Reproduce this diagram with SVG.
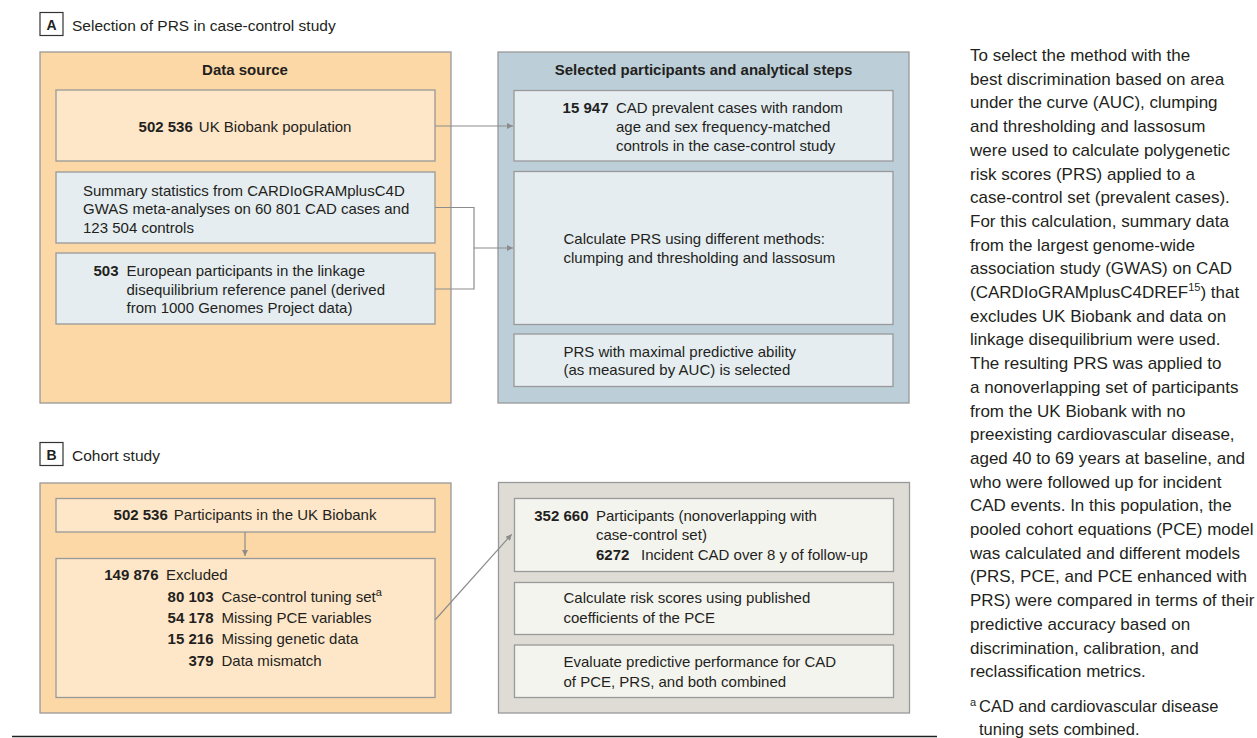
<svg xmlns="http://www.w3.org/2000/svg" width="1257" height="738" viewBox="0 0 1257 738">
<style>
text{font-family:"Liberation Sans",Arial,sans-serif;fill:#231f20;font-size:15px}
.b{font-weight:bold}
.e{text-anchor:end}
.m{text-anchor:middle}
.lbl{fill:#fff;stroke:#333;stroke-width:1.2}
.oA{fill:#fdd8a7;stroke:#999;stroke-width:1.3}
.oBl{fill:#bccfd9;stroke:#999;stroke-width:1.3}
.oG{fill:#dfdcd5;stroke:#999;stroke-width:1.3}
.pe{fill:#fee6c8;stroke:#999;stroke-width:1.3}
.bl{fill:#e5edf1;stroke:#999;stroke-width:1.3}
.lt{fill:#f4f4ef;stroke:#999;stroke-width:1.3}
.c{fill:none;stroke:#8c8c8c;stroke-width:1.2}
.side{font-size:17px}
.fn{font-size:16.5px}
.sup{font-size:11px}
</style>
<defs>
<marker id="arr" viewBox="0 0 10 10" refX="10" refY="5" markerWidth="8" markerHeight="6" orient="auto" markerUnits="userSpaceOnUse"><path d="M0,0 L10,5 L0,10 z" fill="#8c8c8c"/></marker>
</defs>

<g id="panelA-label">
<rect class="lbl" x="40" y="12.5" width="23" height="23"/>
<text class="b m" x="51.5" y="29.5" style="font-size:14px">A</text>
<text x="72" y="31" style="font-size:15.5px">Selection of PRS in case-control study</text>
</g>

<g id="data-source">
<rect class="oA" x="40" y="52" width="411" height="351"/>
<text class="b m" x="245" y="75">Data source</text>
</g>
<g id="a-biobank">
<rect class="pe" x="56" y="90" width="379" height="71"/>
<text class="m" x="245" y="132"><tspan class="b">502 536</tspan><tspan dx="6">UK Biobank population</tspan></text>
</g>
<g id="a-summary">
<rect class="bl" x="56" y="172" width="379" height="71"/>
<text x="83" y="195.5">Summary statistics from CARDIoGRAMplusC4D</text>
<text x="83" y="214">GWAS meta-analyses on 60 801 CAD cases and</text>
<text x="83" y="232.5">123 504 controls</text>
</g>
<g id="a-european">
<rect class="bl" x="56" y="253" width="379" height="71"/>
<text class="b e" x="118.5" y="276">503</text>
<text x="126.5" y="276">European participants in the linkage</text>
<text x="126.5" y="294.5">disequilibrium reference panel (derived</text>
<text x="126.5" y="313">from 1000 Genomes Project data)</text>
</g>

<g id="selected">
<rect class="oBl" x="498" y="52" width="411" height="351"/>
<text class="b m" x="703.5" y="74.5">Selected participants and analytical steps</text>
</g>
<g id="a-cases">
<rect class="bl" x="514" y="90.5" width="379" height="70.5"/>
<text class="b e" x="608.5" y="113">15 947</text>
<text x="616" y="113">CAD prevalent cases with random</text>
<text x="616" y="132">age and sex frequency-matched</text>
<text x="616" y="151">controls in the case-control study</text>
</g>
<g id="a-calc">
<rect class="bl" x="514" y="171.5" width="379" height="153"/>
<text x="563.5" y="244.3">Calculate PRS using different methods:</text>
<text x="563.5" y="263.3">clumping and thresholding and lassosum</text>
</g>
<g id="a-maximal">
<rect class="bl" x="514" y="334" width="379" height="52.5"/>
<text x="563.5" y="356.7">PRS with maximal predictive ability</text>
<text x="563.5" y="375.3">(as measured by AUC) is selected</text>
</g>

<g id="panelB-label">
<rect class="lbl" x="40" y="442.5" width="23" height="23"/>
<text class="b m" x="51.5" y="459.5" style="font-size:14px">B</text>
<text x="72" y="461" style="font-size:15.5px">Cohort study</text>
</g>

<g id="cohort-left">
<rect class="oA" x="40" y="483" width="411" height="230"/>
</g>
<g id="b-participants">
<rect class="pe" x="56" y="498.5" width="379" height="33.5"/>
<text class="m" x="245" y="520"><tspan class="b">502 536</tspan><tspan dx="6">Participants in the UK Biobank</tspan></text>
</g>
<g id="b-excluded">
<rect class="pe" x="56" y="558.5" width="379" height="139"/>
<text class="b e" x="158.5" y="580">149 876</text>
<text x="166" y="580">Excluded</text>
<text class="b e" x="213.5" y="602.3">80 103</text>
<text x="221.5" y="602.3">Case-control tuning set<tspan class="sup" dy="-6">a</tspan></text>
<text class="b e" x="213.5" y="623.3">54 178</text>
<text x="221.5" y="623.3">Missing PCE variables</text>
<text class="b e" x="213.5" y="644.3">15 216</text>
<text x="221.5" y="644.3">Missing genetic data</text>
<text class="b e" x="213.5" y="665.5">379</text>
<text x="221.5" y="665.5">Data mismatch</text>
</g>

<g id="cohort-right">
<rect class="oG" x="498.5" y="482.5" width="411" height="230.5"/>
</g>
<g id="b-nonoverlap">
<rect class="lt" x="514.5" y="498.5" width="379" height="73"/>
<text class="b e" x="588.5" y="521">352 660</text>
<text x="596" y="521">Participants (nonoverlapping with</text>
<text x="596" y="540">case-control set)</text>
<text class="b" x="596" y="560">6272</text>
<text x="641" y="560">Incident CAD over 8 y of follow-up</text>
</g>
<g id="b-risk">
<rect class="lt" x="514.5" y="582.5" width="379" height="52"/>
<text x="563.5" y="603.3">Calculate risk scores using published</text>
<text x="563.5" y="622.7">coefficients of the PCE</text>
</g>
<g id="b-evaluate">
<rect class="lt" x="514.5" y="645" width="379" height="52.5"/>
<text x="563.5" y="667.3">Evaluate predictive performance for CAD</text>
<text x="563.5" y="686.7">of PCE, PRS, and both combined</text>
</g>

<g id="connectors">
<path class="c" d="M435,126 H513" marker-end="url(#arr)"/>
<path class="c" d="M435,207.5 H474 V289 H435"/>
<path class="c" d="M474,248 H513" marker-end="url(#arr)"/>
<path class="c" d="M245,532 V556" marker-end="url(#arr)"/>
<path class="c" d="M435,620 L511.7,534.3" marker-end="url(#arr)"/>
</g>

<line x1="12" y1="736.5" x2="937" y2="736.5" stroke="#231f20" stroke-width="1.5"/>

<g id="side-text">
<text class="side" x="970" y="61">To select the method with the</text>
<text class="side" x="970" y="84.7">best discrimination based on area</text>
<text class="side" x="970" y="108.4">under the curve (AUC), clumping</text>
<text class="side" x="970" y="132.1">and thresholding and lassosum</text>
<text class="side" x="970" y="155.8">were used to calculate polygenetic</text>
<text class="side" x="970" y="179.5">risk scores (PRS) applied to a</text>
<text class="side" x="970" y="203.2">case-control set (prevalent cases).</text>
<text class="side" x="970" y="226.9">For this calculation, summary data</text>
<text class="side" x="970" y="250.6">from the largest genome-wide</text>
<text class="side" x="970" y="274.3">association study (GWAS) on CAD</text>
<text class="side" x="970" y="298">(CARDIoGRAMplusC4DREF<tspan class="sup" dy="-7">15</tspan><tspan dy="7">) that</tspan></text>
<text class="side" x="970" y="321.7">excludes UK Biobank and data on</text>
<text class="side" x="970" y="345.4">linkage disequilibrium were used.</text>
<text class="side" x="970" y="369.1">The resulting PRS was applied to</text>
<text class="side" x="970" y="392.8">a nonoverlapping set of participants</text>
<text class="side" x="970" y="416.5">from the UK Biobank with no</text>
<text class="side" x="970" y="440.2">preexisting cardiovascular disease,</text>
<text class="side" x="970" y="463.9">aged 40 to 69 years at baseline, and</text>
<text class="side" x="970" y="487.6">who were followed up for incident</text>
<text class="side" x="970" y="511.3">CAD events. In this population, the</text>
<text class="side" x="970" y="535">pooled cohort equations (PCE) model</text>
<text class="side" x="970" y="558.7">was calculated and different models</text>
<text class="side" x="970" y="582.4">(PRS, PCE, and PCE enhanced with</text>
<text class="side" x="970" y="606.1">PRS) were compared in terms of their</text>
<text class="side" x="970" y="629.8">predictive accuracy based on</text>
<text class="side" x="970" y="653.5">discrimination, calibration, and</text>
<text class="side" x="970" y="677.2">reclassification metrics.</text>
<text x="970" y="706" style="font-size:11px">a</text>
<text class="fn" x="979" y="712.3">CAD and cardiovascular disease</text>
<text class="fn" x="979" y="735">tuning sets combined.</text>
</g>
</svg>
